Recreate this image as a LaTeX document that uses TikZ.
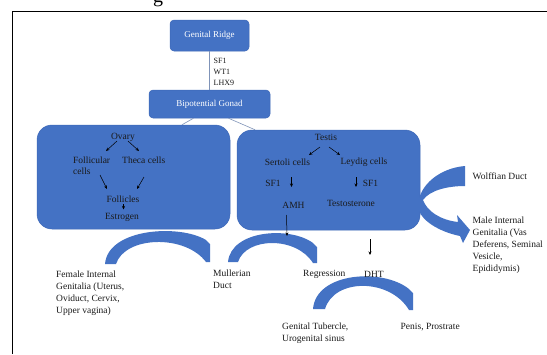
\documentclass[tikz,border=0pt]{standalone}
\usepackage{fontspec}
\setmainfont{Liberation Serif}
\usetikzlibrary{arrows.meta,calc}
\definecolor{boxblue}{HTML}{4472C4}
\definecolor{boxedge}{HTML}{3D68B8}
\definecolor{linkgray}{HTML}{7F93B8}
\definecolor{inktext}{HTML}{1A1A1A}
\tikzset{
  smallbox/.style={fill=boxblue, draw=boxedge, line width=0.5pt, rounded corners=4pt,
    text=white, font=\fontsize{9}{10}\selectfont, inner sep=0pt},
  bigbox/.style={fill=boxblue, draw=boxedge, line width=0.5pt, rounded corners=15pt, inner sep=0pt},
  lbl/.style={font=\fontsize{9.5}{12}\selectfont, text=inktext, inner sep=0pt, align=left},
  inlbl/.style={font=\fontsize{9.5}{11}\selectfont, text=inktext, inner sep=0pt, align=left},
  link/.style={draw=linkgray, line width=0.6pt},
  arr/.style={draw=black, line width=0.5pt, -{Stealth[length=3.5pt,width=3pt]}},
  blockarrow/.style={fill=boxblue, draw=none},
}
\begin{document}
\begin{tikzpicture}[x=1pt,y=-1pt]
\useasboundingbox (0,0) rectangle (547,354);
\fill[white] (0,0) rectangle (547,354);
% frame and cut-off heading glyph
\draw[line width=1.1pt] (12.5,354) -- (12.5,11.5) -- (547,11.5);
\node[font=\fontsize{20}{20}\selectfont, anchor=base, inner sep=0pt] (gfrag) at (158,2) {g};

% boxes
\node[smallbox, minimum width=79pt, minimum height=31pt] (ridge) at (209.5,35.5) {Genital Ridge};
\node[smallbox, minimum width=121pt, minimum height=28pt] (gonad) at (209.5,104) {Bipotential Gonad};
\node[bigbox, minimum width=193pt, minimum height=104pt] (ovary) at (133.5,177) {};
\node[bigbox, minimum width=183pt, minimum height=100pt] (testis) at (328.5,180) {};

% connectors between boxes
\draw[link] (ridge.south) -- (gonad.north);
\draw[link] ([xshift=-16pt]gonad.south) -- ([xshift=48.5pt]ovary.north);
\draw[link] ([xshift=19pt]gonad.south) -- ([xshift=-73.5pt]testis.north);
\node[lbl, font=\fontsize{8}{10.8}\selectfont, anchor=west] (genes) at (213.5,72) {SF1\\WT1\\LHX9};

% ovary contents
\node[inlbl] (ovlab) at (123,137) {Ovary};
\node[inlbl, anchor=west] (follc) at (73,165.5) {Follicular\\cells};
\node[inlbl, anchor=west] (theca) at (122,160) {Theca cells};
\node[inlbl] (fol) at (123,199) {Follicles};
\node[inlbl] (estr) at (122,217) {Estrogen};
\draw[arr] ($(ovlab)+(-6,4)$) -- ($(ovlab)+(-17,14)$);
\draw[arr] ($(ovlab)+(5,4)$) -- ($(ovlab)+(16,14)$);
\draw[arr] ($(fol)+(-23,-24)$) -- ($(fol)+(-16,-10)$);
\draw[arr] ($(fol)+(21,-22)$) -- ($(fol)+(14,-10)$);
\draw[arr] ($(fol)+(0.5,5)$) -- ($(fol)+(0.5,10.5)$);

% testis contents
\node[inlbl] (tlab) at (326,137) {Testis};
\node[inlbl] (sert) at (287.5,162) {Sertoli cells};
\node[inlbl] (leyd) at (364,162.5) {Leydig cells};
\node[inlbl] (sfa) at (273,183) {SF1};
\node[inlbl] (sfb) at (370.5,183) {SF1};
\node[inlbl] (amh) at (293.5,205) {AMH};
\node[inlbl] (testo) at (351,203) {Testosterone};
\draw[arr] ($(tlab)+(-6,10)$) -- ($(tlab)+(-17,18)$);
\draw[arr] ($(tlab)+(3,10)$) -- ($(tlab)+(14,18)$);
\draw[arr] ($(amh)+(-2,-28)$) -- ($(amh)+(-2,-18)$);
\draw[arr] ($(testo)+(5,-26)$) -- ($(testo)+(5,-16)$);

% Wolffian / male curved arrow
\fill[blockarrow] (465,166) .. controls (440,168) and (419,185) .. (418,205)
  .. controls (418,220) and (440,232) .. (460,236)
  -- (463,243) -- (470,230) -- (457,215) -- (458,222)
  .. controls (440,220) and (427,211) .. (423,200)
  .. controls (430,190) and (448,186) .. (465,186) -- cycle;
\node[lbl, anchor=west] (wolff) at (472.5,176) {Wolffian Duct};
\node[lbl, anchor=west] (male) at (472.5,245) {Male Internal\\Genitalia (Vas\\Deferens, Seminal\\Vesicle,\\Epididymis)};

% bottom curved arrows
\fill[blockarrow] (105,264) .. controls (108,228) and (180,224) .. (206,240)
  -- (210,244) -- (210,262) -- (206,262) .. controls (185,234) and (125,236) .. (116,264) -- cycle;
\fill[blockarrow] (228,262) .. controls (231,230) and (290,226) .. (313,243)
  -- (317,247) -- (317,263) -- (313,263) .. controls (296,236) and (246,237) .. (238,262) -- cycle;
\fill[blockarrow] (313,309) .. controls (316,272) and (383,268) .. (409,289)
  -- (413,293) -- (413,310) -- (409,310) .. controls (390,278) and (334,278) .. (325,309) -- cycle;

\coordinate (amhend) at (287,236);
\draw[arr] ($(amh)+(-7,10)$) -- (amhend);

% bottom labels
\node[lbl, anchor=west] (female) at (56,293) {Female Internal\\Genitalia (Uterus,\\Oviduct, Cervix,\\Upper vagina)};
\node[lbl, anchor=west] (mull) at (213,279.5) {Mullerian\\Duct};
\node[lbl, anchor=west] (regr) at (303,274) {Regression};
\node[lbl] (dht) at (374,274) {DHT};
\draw[arr] ($(dht)+(-4,-35)$) -- ($(dht)+(-4,-19)$);
\node[lbl, anchor=west] (tuber) at (282,333) {Genital Tubercle,\\Urogenital sinus};
\node[lbl, anchor=west] (penis) at (400.5,327.5) {Penis, Prostrate};
\end{tikzpicture}
\end{document}
